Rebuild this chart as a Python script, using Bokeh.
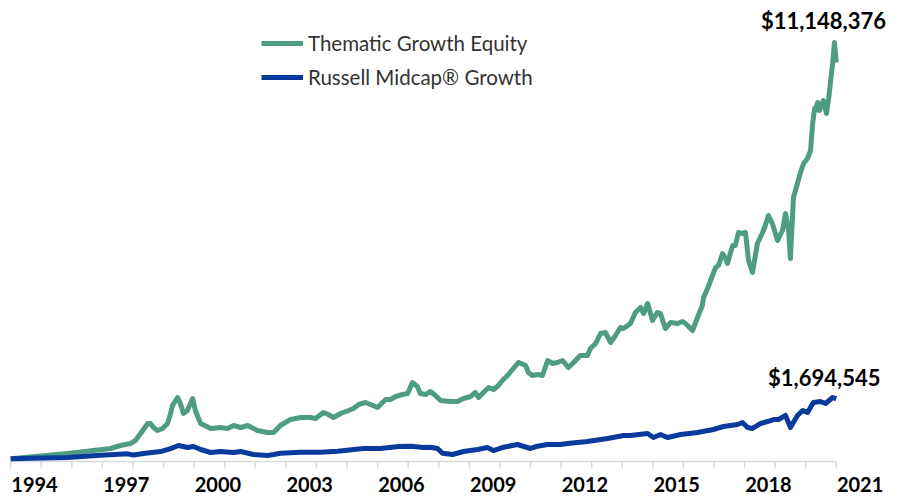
from bokeh.plotting import figure
from bokeh.models import FixedTicker, Legend, LegendItem, Label
from bokeh.embed import file_html
from bokeh.resources import INLINE

# ---- data (decimal year, growth of $100,000) ----
green_dates = [1993.22, 1994.20, 1995.08, 1995.93, 1996.49, 1996.81, 1997.14, 1997.30, 1997.47, 1997.70,
               1997.79, 1997.89, 1998.02, 1998.19, 1998.35, 1998.45, 1998.51, 1998.68, 1998.77, 1998.87,
               1999.00, 1999.17, 1999.26, 1999.43, 1999.76, 2000.08, 2000.31, 2000.51, 2000.74, 2000.97,
               2001.29, 2001.62, 2001.82, 2002.04, 2002.37, 2002.70, 2003.03, 2003.19, 2003.45, 2003.61,
               2003.78, 2004.01, 2004.27, 2004.43, 2004.60, 2004.82, 2004.99, 2005.22, 2005.48, 2005.64,
               2005.81, 2006.03, 2006.20, 2006.36, 2006.52, 2006.62, 2006.79, 2006.95, 2007.11, 2007.28,
               2007.60, 2007.83, 2008.03, 2008.26, 2008.42, 2008.52, 2008.68, 2008.85, 2009.01, 2009.17,
               2009.30, 2009.47, 2009.66, 2009.83, 2010.06, 2010.15, 2010.28, 2010.45, 2010.61, 2010.78,
               2010.94, 2011.10, 2011.27, 2011.46, 2011.63, 2011.85, 2012.08, 2012.18, 2012.35, 2012.51,
               2012.67, 2012.84, 2013.00, 2013.16, 2013.26, 2013.49, 2013.65, 2013.82, 2013.92, 2014.05,
               2014.21, 2014.37, 2014.47, 2014.63, 2014.80, 2015.03, 2015.19, 2015.29, 2015.52, 2015.68,
               2015.84, 2015.88, 2016.01, 2016.11, 2016.27, 2016.37, 2016.50, 2016.60, 2016.66, 2016.83,
               2016.92, 2017.02, 2017.15, 2017.25, 2017.35, 2017.48, 2017.64, 2017.81, 2017.90, 2018.00,
               2018.13, 2018.30, 2018.46, 2018.56, 2018.66, 2018.72, 2018.82, 2018.95, 2019.05, 2019.15,
               2019.28, 2019.38, 2019.44, 2019.51, 2019.54, 2019.61, 2019.67, 2019.80, 2019.90, 2019.97,
               2020.10, 2020.16, 2020.22]
green_values = [100000, 170000, 240000, 320000, 372000, 451000, 504000, 584000, 770000, 1035000,
                1035000, 929000, 849000, 903000, 1035000, 1301000, 1513000, 1725000, 1566000, 1301000,
                1380000, 1699000, 1380000, 1035000, 903000, 929000, 903000, 982000, 929000, 982000,
                849000, 796000, 796000, 982000, 1141000, 1195000, 1195000, 1168000, 1327000, 1274000,
                1195000, 1301000, 1380000, 1433000, 1540000, 1593000, 1540000, 1460000, 1672000, 1672000,
                1752000, 1805000, 1832000, 2124000, 2017000, 1832000, 1805000, 1885000, 1779000, 1646000,
                1619000, 1619000, 1699000, 1752000, 1858000, 1725000, 1858000, 1991000, 1938000, 2044000,
                2177000, 2310000, 2495000, 2655000, 2575000, 2389000, 2310000, 2336000, 2310000, 2708000,
                2628000, 2655000, 2708000, 2522000, 2655000, 2840000, 2840000, 3026000, 3159000, 3424000,
                3451000, 3186000, 3371000, 3584000, 3557000, 3690000, 3982000, 4115000, 3955000, 4221000,
                3770000, 3982000, 3955000, 3557000, 3716000, 3690000, 3743000, 3690000, 3504000, 3849000,
                4168000, 4380000, 4619000, 4831000, 5176000, 5230000, 5548000, 5415000, 5283000, 5760000,
                5760000, 6106000, 6079000, 6106000, 5362000, 5044000, 5814000, 6106000, 6291000, 6557000,
                6344000, 5893000, 6159000, 6610000, 6159000, 5415000, 7035000, 7406000, 7698000, 7937000,
                8070000, 8282000, 8946000, 9397000, 9344000, 9557000, 9344000, 9610000, 9265000, 9663000,
                10592000, 11148376, 10618000]

blue_dates = [1993.22, 1995.08, 1996.16, 1997.04, 1997.24, 1997.56, 1998.12, 1998.45, 1998.71, 1999.00,
              1999.20, 1999.43, 1999.76, 2000.08, 2000.51, 2000.74, 2001.16, 2001.62, 2001.82, 2002.04,
              2002.70, 2003.35, 2003.91, 2004.76, 2005.32, 2005.90, 2006.30, 2006.72, 2006.95, 2007.18,
              2007.34, 2007.67, 2008.03, 2008.49, 2008.81, 2009.01, 2009.34, 2009.79, 2010.22, 2010.45,
              2010.78, 2011.20, 2011.43, 2012.08, 2012.74, 2013.26, 2013.49, 2014.05, 2014.24, 2014.47,
              2014.70, 2015.13, 2015.68, 2016.20, 2016.53, 2016.99, 2017.15, 2017.32, 2017.48, 2017.74,
              2017.97, 2018.17, 2018.33, 2018.56, 2018.72, 2018.95, 2019.12, 2019.28, 2019.47, 2019.70,
              2019.87, 2020.10, 2020.22]
blue_values = [100000, 135000, 190000, 230000, 200000, 240000, 290000, 370000, 451000, 398000,
               425000, 345000, 265000, 292000, 265000, 292000, 212000, 185000, 212000, 247000,
               274000, 274000, 301000, 372000, 372000, 425000, 433000, 398000, 406000, 372000,
               247000, 212000, 292000, 345000, 398000, 318000, 406000, 478000, 372000, 433000,
               478000, 478000, 504000, 557000, 637000, 717000, 717000, 770000, 664000, 743000,
               664000, 743000, 796000, 876000, 956000, 1009000, 1062000, 929000, 903000, 1035000,
               1088000, 1141000, 1141000, 1248000, 929000, 1248000, 1380000, 1327000, 1593000, 1619000,
               1566000, 1725000, 1694545]

series_names = ["Thematic Growth Equity", "Russell Midcap\u00ae Growth"]
year_labels = list(range(1994, 2022, 3))

GREEN = "#4E9D82"
BLUE = "#0A3A9C"
RULE = "#D9D9D9"

# value scale: ~26,546 dollars per screen pixel; frame runs 0..468 px
Y_TOP, Y_BOTTOM = 12264252, -159276
RULE_Y, TICK_END_Y = 26546, -185822

p = figure(width=900, height=500,
           x_range=(1992.888, 2022.32), y_range=(Y_BOTTOM, Y_TOP),
           output_backend="svg", toolbar_location=None,
           y_axis_location=None,
           min_border_left=0, min_border_right=0, min_border_top=0, min_border_bottom=32)
p.xgrid.visible = False
p.ygrid.visible = False
p.outline_line_color = None
p.background_fill_color = "white"
p.border_fill_color = "white"

# category rule and yearly tick marks, through the plot's scales
year_marks = [green_dates[0] + k for k in range(int(round(green_dates[-1] - green_dates[0])) + 1)]
p.segment(x0=[year_marks[0]], y0=[RULE_Y], x1=[year_marks[-1]], y1=[RULE_Y],
          line_color=RULE, line_width=1.5)
p.segment(x0=year_marks, y0=[RULE_Y] * len(year_marks), x1=year_marks, y1=[TICK_END_Y] * len(year_marks),
          line_color=RULE, line_width=1.5)

g = p.line(green_dates, green_values, line_color=GREEN, line_width=5, line_join="round")
b = p.line(blue_dates, blue_values, line_color=BLUE, line_width=5, line_join="round")

# year labels
ax = p.xaxis[0]
ax.ticker = FixedTicker(ticks=year_labels)
ax.axis_line_color = None
ax.major_tick_line_color = None
ax.major_tick_out = 0
ax.major_tick_in = 0
ax.minor_tick_line_color = None
ax.minor_tick_out = 0
ax.minor_tick_in = 0
ax.major_label_text_font = "Lato"
ax.major_label_text_font_style = "bold"
ax.major_label_text_font_size = "20px"
ax.major_label_text_color = "#000000"
ax.major_label_standoff = 8

legend = Legend(items=[LegendItem(label=series_names[0], renderers=[g]),
                       LegendItem(label=series_names[1], renderers=[b])],
                location=(261, 378), orientation="vertical",
                border_line_color=None, background_fill_alpha=0,
                padding=0, margin=0, spacing=8,
                glyph_width=42, glyph_height=26, label_height=26, label_standoff=5,
                label_text_font="Lato", label_text_font_size="20.5px", label_text_color="#333333")
p.add_layout(legend)

# value annotations
gi = green_values.index(max(green_values))
p.add_layout(Label(x=green_dates[gi], y=green_values[gi], text=f"${green_values[gi]:,.0f}",
                   text_font="Lato", text_font_style="bold", text_font_size="22px",
                   text_color="#000000", text_align="center", text_baseline="middle",
                   x_offset=-11, y_offset=22))
p.add_layout(Label(x=blue_dates[-1], y=blue_values[-1], text=f"${blue_values[-1]:,.0f}",
                   text_font="Lato", text_font_style="bold", text_font_size="22px",
                   text_color="#000000", text_align="center", text_baseline="middle",
                   x_offset=-12, y_offset=21))

open("out.html", "w").write(file_html(p, INLINE))
